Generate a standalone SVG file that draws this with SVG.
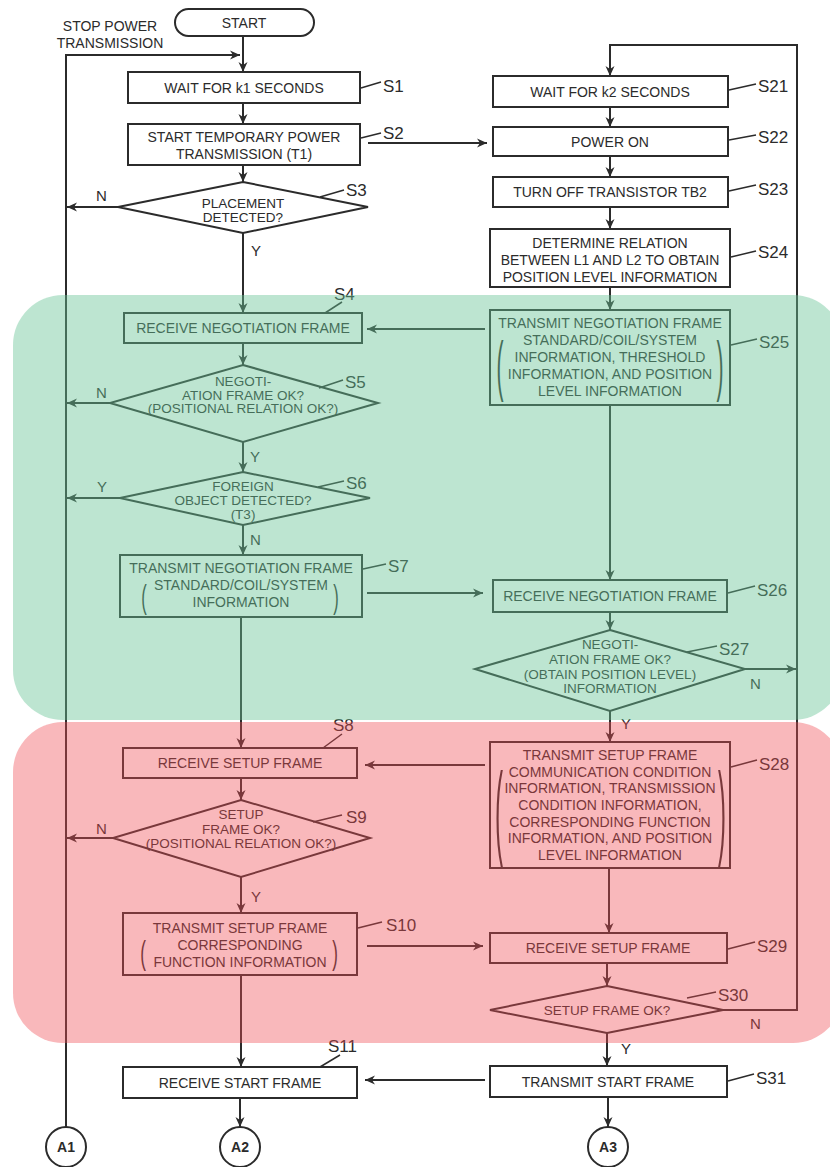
<svg xmlns="http://www.w3.org/2000/svg" width="830" height="1167" viewBox="0 0 830 1167">
<defs>
<marker id="ah" markerUnits="userSpaceOnUse" markerWidth="11" markerHeight="10" refX="10" refY="5" orient="auto">
<path d="M0,0.5 L10,5 L0,9.5 L3,5 z" fill="#2b2b2b"/>
</marker>
<style>
.box{fill:none;stroke:#2b2b2b;stroke-width:2}
.ln{fill:none;stroke:#2b2b2b;stroke-width:2}
.ld{fill:none;stroke:#2b2b2b;stroke-width:1.5}
.t{font-family:'Liberation Sans',Arial,sans-serif;font-size:14px;fill:#2b2b2b;text-anchor:middle}
.d{font-family:'Liberation Sans',Arial,sans-serif;font-size:13.5px;fill:#2b2b2b;text-anchor:middle}
.lbl{font-family:'Liberation Sans',Arial,sans-serif;font-size:17px;fill:#2b2b2b}
.yn{font-family:'Liberation Sans',Arial,sans-serif;font-size:15px;fill:#2b2b2b}
.p{font-family:'Liberation Sans',Arial,sans-serif;fill:#2b2b2b;text-anchor:middle}
.circ{fill:none;stroke:#2b2b2b;stroke-width:2}
.ct{font-family:'Liberation Sans',Arial,sans-serif;font-size:14px;font-weight:bold;fill:#2b2b2b;text-anchor:middle}
</style>
</defs>
<rect width="830" height="1167" fill="#ffffff"/>

<g id="connectors">
<polyline class="ln" points="66,1127 66,55 240,55" marker-end="url(#ah)"/>
<line class="ln" x1="243" y1="36" x2="243" y2="72" marker-end="url(#ah)"/>
<line class="ln" x1="243" y1="103" x2="243" y2="124" marker-end="url(#ah)"/>
<line class="ln" x1="243" y1="165" x2="243" y2="182" marker-end="url(#ah)"/>
<line class="ln" x1="118" y1="207" x2="67" y2="207" marker-end="url(#ah)"/>
<line class="ln" x1="243" y1="233" x2="243" y2="313" marker-end="url(#ah)"/>
<line class="ln" x1="243" y1="343" x2="243" y2="365" marker-end="url(#ah)"/>
<line class="ln" x1="110" y1="403" x2="67" y2="403" marker-end="url(#ah)"/>
<line class="ln" x1="243" y1="442" x2="243" y2="472" marker-end="url(#ah)"/>
<line class="ln" x1="120" y1="498" x2="67" y2="498" marker-end="url(#ah)"/>
<line class="ln" x1="243" y1="525" x2="243" y2="555" marker-end="url(#ah)"/>
<line class="ln" x1="241" y1="617" x2="241" y2="748" marker-end="url(#ah)"/>
<line class="ln" x1="241" y1="778" x2="241" y2="800" marker-end="url(#ah)"/>
<line class="ln" x1="113" y1="838" x2="67" y2="838" marker-end="url(#ah)"/>
<line class="ln" x1="241" y1="877" x2="241" y2="913" marker-end="url(#ah)"/>
<line class="ln" x1="241" y1="975" x2="241" y2="1067" marker-end="url(#ah)"/>
<line class="ln" x1="240" y1="1098" x2="240" y2="1127" marker-end="url(#ah)"/>
<line class="ln" x1="368" y1="143" x2="487" y2="143" marker-end="url(#ah)"/>
<line class="ln" x1="485" y1="329" x2="367" y2="329" marker-end="url(#ah)"/>
<line class="ln" x1="367" y1="593" x2="483" y2="593" marker-end="url(#ah)"/>
<line class="ln" x1="485" y1="765" x2="365" y2="765" marker-end="url(#ah)"/>
<line class="ln" x1="367" y1="946" x2="483" y2="946" marker-end="url(#ah)"/>
<line class="ln" x1="485" y1="1080" x2="365" y2="1080" marker-end="url(#ah)"/>
<polyline class="ln" points="723,1010 797,1010 797,45 610,45 610,76" marker-end="url(#ah)"/>
<line class="ln" x1="610" y1="107" x2="610" y2="127" marker-end="url(#ah)"/>
<line class="ln" x1="610" y1="156" x2="610" y2="177" marker-end="url(#ah)"/>
<line class="ln" x1="610" y1="207" x2="610" y2="229" marker-end="url(#ah)"/>
<line class="ln" x1="610" y1="287" x2="610" y2="310" marker-end="url(#ah)"/>
<line class="ln" x1="610" y1="405" x2="610" y2="580" marker-end="url(#ah)"/>
<line class="ln" x1="610" y1="612" x2="610" y2="630" marker-end="url(#ah)"/>
<line class="ln" x1="745" y1="669" x2="796" y2="669" marker-end="url(#ah)"/>
<line class="ln" x1="610" y1="711" x2="610" y2="742" marker-end="url(#ah)"/>
<line class="ln" x1="609" y1="868" x2="609" y2="933" marker-end="url(#ah)"/>
<line class="ln" x1="607" y1="963" x2="607" y2="986" marker-end="url(#ah)"/>
<line class="ln" x1="607" y1="1033" x2="607" y2="1066" marker-end="url(#ah)"/>
<line class="ln" x1="608" y1="1097" x2="608" y2="1127" marker-end="url(#ah)"/>
</g>

<g id="stop-note">
<text class="t" x="110" y="31">STOP POWER</text>
<text class="t" x="110" y="48">TRANSMISSION</text>
</g>

<g id="start">
<rect class="box" x="175" y="9" width="139" height="27" rx="13.5"/>
<text class="t" x="244" y="28">START</text>
</g>

<g id="S1">
<rect class="box" x="128" y="72" width="232" height="31"/>
<text class="t" x="244" y="93">WAIT FOR k1 SECONDS</text>
<line class="ld" x1="361" y1="88" x2="381" y2="82"/>
<text class="lbl" x="383" y="92">S1</text>
</g>

<g id="S2">
<rect class="box" x="128" y="124" width="232" height="41"/>
<text class="t" x="244" y="142">START TEMPORARY POWER</text>
<text class="t" x="244" y="159">TRANSMISSION (T1)</text>
<line class="ld" x1="361" y1="138" x2="381" y2="133"/>
<text class="lbl" x="383" y="139">S2</text>
</g>

<g id="S3">
<polygon class="box" points="243,182 368,207 243,233 118,207"/>
<text class="d" x="243" y="208">PLACEMENT</text>
<text class="d" x="243" y="222">DETECTED?</text>
<line class="ld" x1="320" y1="197" x2="344" y2="190"/>
<text class="lbl" x="346" y="196">S3</text>
<text class="yn" x="96" y="201">N</text>
<text class="yn" x="251" y="256">Y</text>
</g>

<g id="S4">
<rect class="box" x="124" y="313" width="238" height="30"/>
<text class="t" x="243" y="333">RECEIVE NEGOTIATION FRAME</text>
<line class="ld" x1="325" y1="313" x2="342" y2="302"/>
<text class="lbl" x="334" y="300">S4</text>
</g>

<g id="S5">
<polygon class="box" points="243,365 378,403 243,442 110,403"/>
<text class="d" x="243" y="386">NEGOTI-</text>
<text class="d" x="243" y="400">ATION FRAME OK?</text>
<text class="d" x="243" y="413">(POSITIONAL RELATION OK?)</text>
<line class="ld" x1="319" y1="388" x2="343" y2="380"/>
<text class="lbl" x="345" y="388">S5</text>
<text class="yn" x="96" y="398">N</text>
<text class="yn" x="250" y="462">Y</text>
</g>

<g id="S6">
<polygon class="box" points="243,472 370,498 243,525 120,498"/>
<text class="d" x="243" y="491">FOREIGN</text>
<text class="d" x="243" y="505">OBJECT DETECTED?</text>
<text class="d" x="243" y="519">(T3)</text>
<line class="ld" x1="318" y1="487" x2="344" y2="481"/>
<text class="lbl" x="346" y="489">S6</text>
<text class="yn" x="97" y="492">Y</text>
<text class="yn" x="250" y="545">N</text>
</g>

<g id="S7">
<rect class="box" x="120" y="555" width="242" height="62"/>
<text class="t" x="241" y="573">TRANSMIT NEGOTIATION FRAME</text>
<text class="t" x="241" y="590">STANDARD/COIL/SYSTEM</text>
<text class="t" x="241" y="607">INFORMATION</text>
<text class="p" font-size="33" transform="translate(144,608) scale(0.5,1)">(</text>
<text class="p" font-size="33" transform="translate(336,608) scale(0.5,1)">)</text>
<line class="ld" x1="363" y1="569" x2="386" y2="564"/>
<text class="lbl" x="388" y="572">S7</text>
</g>

<g id="S8">
<rect class="box" x="123" y="748" width="234" height="30"/>
<text class="t" x="240" y="768">RECEIVE SETUP FRAME</text>
<line class="ld" x1="323" y1="748" x2="342" y2="734"/>
<text class="lbl" x="333" y="731">S8</text>
</g>

<g id="S9">
<polygon class="box" points="241,800 370,838 241,877 113,838"/>
<text class="d" x="241" y="819">SETUP</text>
<text class="d" x="241" y="834">FRAME OK?</text>
<text class="d" x="241" y="848">(POSITIONAL RELATION OK?)</text>
<line class="ld" x1="313" y1="822" x2="342" y2="815"/>
<text class="lbl" x="346" y="823">S9</text>
<text class="yn" x="96" y="834">N</text>
<text class="yn" x="251" y="902">Y</text>
</g>

<g id="S10">
<rect class="box" x="123" y="913" width="234" height="62"/>
<text class="t" x="240" y="933">TRANSMIT SETUP FRAME</text>
<text class="t" x="240" y="950">CORRESPONDING</text>
<text class="t" x="240" y="967">FUNCTION INFORMATION</text>
<text class="p" font-size="34" transform="translate(143,964) scale(0.5,1)">(</text>
<text class="p" font-size="34" transform="translate(335,964) scale(0.5,1)">)</text>
<line class="ld" x1="358" y1="928" x2="382" y2="922"/>
<text class="lbl" x="386" y="931">S10</text>
</g>

<g id="S11">
<rect class="box" x="123" y="1067" width="234" height="31"/>
<text class="t" x="240" y="1088">RECEIVE START FRAME</text>
<line class="ld" x1="320" y1="1067" x2="340" y2="1055"/>
<text class="lbl" x="328" y="1052">S11</text>
</g>

<g id="A1">
<circle class="circ" cx="66" cy="1147" r="20"/>
<text class="ct" x="66" y="1152">A1</text>
</g>
<g id="A2">
<circle class="circ" cx="240" cy="1147" r="20"/>
<text class="ct" x="240" y="1152">A2</text>
</g>
<g id="A3">
<circle class="circ" cx="608" cy="1147" r="20"/>
<text class="ct" x="608" y="1152">A3</text>
</g>

<g id="S21">
<rect class="box" x="493" y="76" width="235" height="31"/>
<text class="t" x="610" y="97">WAIT FOR k2 SECONDS</text>
<line class="ld" x1="729" y1="90" x2="756" y2="84"/>
<text class="lbl" x="758" y="92">S21</text>
</g>

<g id="S22">
<rect class="box" x="493" y="127" width="235" height="29"/>
<text class="t" x="610" y="147">POWER ON</text>
<line class="ld" x1="729" y1="140" x2="756" y2="135"/>
<text class="lbl" x="758" y="143">S22</text>
</g>

<g id="S23">
<rect class="box" x="493" y="177" width="235" height="30"/>
<text class="t" x="610" y="197">TURN OFF TRANSISTOR TB2</text>
<line class="ld" x1="729" y1="191" x2="756" y2="185"/>
<text class="lbl" x="758" y="195">S23</text>
</g>

<g id="S24">
<rect class="box" x="490" y="229" width="240" height="58"/>
<text class="t" x="610" y="248">DETERMINE RELATION</text>
<text class="t" x="610" y="265">BETWEEN L1 AND L2 TO OBTAIN</text>
<text class="t" x="610" y="282">POSITION LEVEL INFORMATION</text>
<line class="ld" x1="731" y1="257" x2="756" y2="251"/>
<text class="lbl" x="758" y="258">S24</text>
</g>

<g id="S25">
<rect class="box" x="490" y="310" width="240" height="95"/>
<text class="t" x="610" y="328">TRANSMIT NEGOTIATION FRAME</text>
<text class="t" x="610" y="345">STANDARD/COIL/SYSTEM</text>
<text class="t" x="610" y="362">INFORMATION, THRESHOLD</text>
<text class="t" x="610" y="379">INFORMATION, AND POSITION</text>
<text class="t" x="610" y="396">LEVEL INFORMATION</text>
<text class="p" font-size="66" transform="translate(500,388) scale(0.32,1)">(</text>
<text class="p" font-size="66" transform="translate(720,388) scale(0.32,1)">)</text>
<line class="ld" x1="731" y1="345" x2="757" y2="339"/>
<text class="lbl" x="759" y="348">S25</text>
</g>

<g id="S26">
<rect class="box" x="493" y="580" width="234" height="32"/>
<text class="t" x="610" y="601">RECEIVE NEGOTIATION FRAME</text>
<line class="ld" x1="728" y1="593" x2="755" y2="586"/>
<text class="lbl" x="757" y="596">S26</text>
</g>

<g id="S27">
<polygon class="box" points="610,630 745,669 610,711 475,669"/>
<text class="d" x="610" y="649">NEGOTI-</text>
<text class="d" x="610" y="664">ATION FRAME OK?</text>
<text class="d" x="610" y="679">(OBTAIN POSITION LEVEL)</text>
<text class="d" x="610" y="693">INFORMATION</text>
<line class="ld" x1="687" y1="652" x2="717" y2="646"/>
<text class="lbl" x="719" y="655">S27</text>
<text class="yn" x="750" y="689">N</text>
<text class="yn" x="621" y="729">Y</text>
</g>

<g id="S28">
<rect class="box" x="490" y="742" width="240" height="126"/>
<text class="t" x="610" y="760">TRANSMIT SETUP FRAME</text>
<text class="t" x="610" y="777">COMMUNICATION CONDITION</text>
<text class="t" x="610" y="793">INFORMATION, TRANSMISSION</text>
<text class="t" x="610" y="810">CONDITION INFORMATION,</text>
<text class="t" x="610" y="827">CORRESPONDING FUNCTION</text>
<text class="t" x="610" y="843">INFORMATION, AND POSITION</text>
<text class="t" x="610" y="860">LEVEL INFORMATION</text>
<text class="p" font-size="104" transform="translate(499,845) scale(0.23,1)">(</text>
<text class="p" font-size="104" transform="translate(722,845) scale(0.23,1)">)</text>
<line class="ld" x1="731" y1="767" x2="757" y2="760"/>
<text class="lbl" x="759" y="770">S28</text>
</g>

<g id="S29">
<rect class="box" x="490" y="933" width="237" height="30"/>
<text class="t" x="608" y="953">RECEIVE SETUP FRAME</text>
<line class="ld" x1="728" y1="949" x2="755" y2="942"/>
<text class="lbl" x="757" y="952">S29</text>
</g>

<g id="S30">
<polygon class="box" points="607,986 723,1010 607,1033 490,1010"/>
<text class="d" x="607" y="1015">SETUP FRAME OK?</text>
<line class="ld" x1="687" y1="998" x2="716" y2="992"/>
<text class="lbl" x="718" y="1001">S30</text>
<text class="yn" x="750" y="1029">N</text>
<text class="yn" x="621" y="1054">Y</text>
</g>

<g id="S31">
<rect class="box" x="490" y="1066" width="237" height="31"/>
<text class="t" x="608" y="1087">TRANSMIT START FRAME</text>
<line class="ld" x1="728" y1="1081" x2="754" y2="1074"/>
<text class="lbl" x="756" y="1084">S31</text>
</g>

<g id="regions" pointer-events="none">
<rect x="13" y="295" width="830" height="425" rx="50" fill="rgb(103,195,149)" fill-opacity="0.435"/>
<rect x="13" y="722" width="830" height="321" rx="50" fill="rgb(240,76,83)" fill-opacity="0.396"/>
</g>
</svg>
